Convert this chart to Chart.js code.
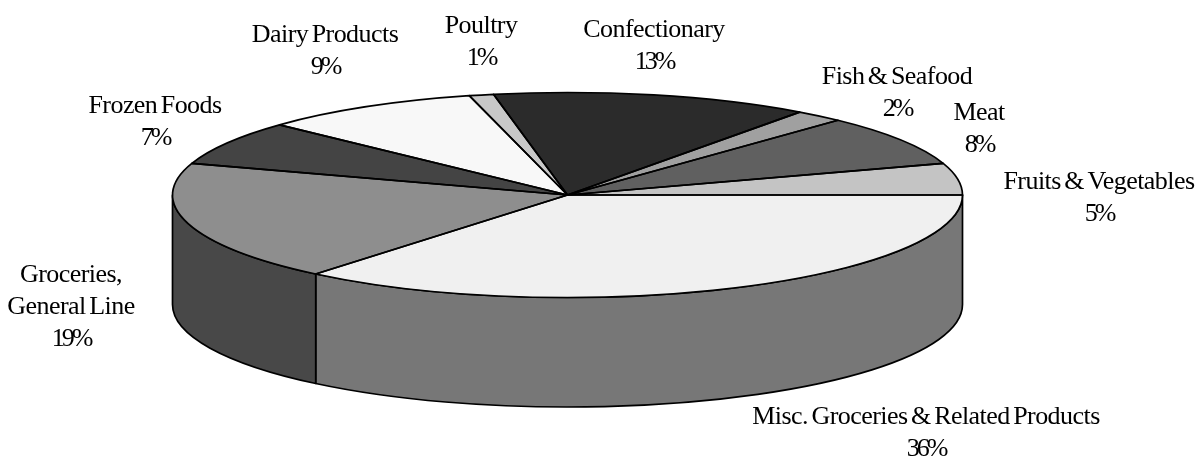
<!DOCTYPE html>
<html>
<head>
<meta charset="utf-8">
<title>Wholesale groceries pie</title>
<script src="https://cdn.jsdelivr.net/npm/chart.js@4"></script>
<style>
  html, body { margin: 0; padding: 0; background: #fff; }
  #pie { display: block; }
</style>
</head>
<body>
<canvas id="pie" width="1197" height="458"></canvas>
<script>
// slices run clockwise from 3 o'clock
const categories = [
  'Misc. Groceries & Related Products',
  'Groceries,\nGeneral Line',
  'Frozen Foods',
  'Dairy Products',
  'Poultry',
  'Confectionary',
  'Fish & Seafood',
  'Meat',
  'Fruits & Vegetables'
];
const shares = [36, 19, 7, 9, 1, 13, 2, 8, 5];
const topColors = ['#f0f0f0', '#8e8e8e', '#444444', '#f8f8f8', '#c8c8c8', '#2b2b2b', '#a0a0a0', '#606060', '#c4c4c4'];
const wallColors = ['#777777', '#484848', '#222222', '#7c7c7c', '#646464', '#161616', '#505050', '#303030', '#626262'];

// label anchor for each slice: centre x, y of the first line
const labelSpots = [
  [926, 417], [71, 275], [155, 106], [325, 35], [481, 26], [654, 30], [897, 77], [979, 113], [1099, 182]
];
const lineGap = 32.3;

// tilted disc, the library's circle gets squashed onto this
const disc = { cx: 567.5, cy: 195, rx: 395, ry: 102.5, depth: 109.5 };

const wallSpan = Math.PI; // only the front half of the rim shows

const tiltedPie = {
  id: 'tiltedPie',
  beforeDatasetDraw(chart) {
    const ctx = chart.ctx;
    const arcs = chart.getDatasetMeta(0).data;

    ctx.save();
    ctx.lineJoin = 'round';
    ctx.strokeStyle = '#000';
    ctx.lineWidth = 1.7;

    // side wall
    arcs.forEach((arc, i) => {
      const from = norm(arc.startAngle);
      const to = Math.min(from + (arc.endAngle - arc.startAngle), wallSpan);
      if (to <= from) return;
      ctx.beginPath();
      ctx.ellipse(disc.cx, disc.cy, disc.rx, disc.ry, 0, from, to);
      ctx.ellipse(disc.cx, disc.cy + disc.depth, disc.rx, disc.ry, 0, to, from, true);
      ctx.closePath();
      ctx.fillStyle = wallColors[i];
      ctx.fill();
      ctx.stroke();
    });

    // top face: the library's own arcs under a squash transform
    arcs.forEach(arc => {
      const r = arc.outerRadius;
      ctx.save();
      ctx.translate(disc.cx, disc.cy);
      ctx.scale(disc.rx / r, disc.ry / r);
      ctx.translate(-arc.x, -arc.y);
      arc.draw(ctx);
      ctx.restore();
    });

    // outlines drawn unsquashed so the pen stays even
    arcs.forEach(arc => {
      const from = norm(arc.startAngle);
      const to = from + (arc.endAngle - arc.startAngle);
      ctx.beginPath();
      ctx.moveTo(disc.cx, disc.cy);
      ctx.ellipse(disc.cx, disc.cy, disc.rx, disc.ry, 0, from, to);
      ctx.closePath();
      ctx.stroke();
    });
    ctx.restore();
    return false;
  },
  afterDraw(chart) {
    const ctx = chart.ctx;
    ctx.save();
    ctx.fillStyle = '#000';
    ctx.font = '26px "Liberation Serif"';
    ctx.textAlign = 'center';
    ctx.textBaseline = 'middle';
    categories.forEach((name, i) => {
      const names = name.split('\n');
      ctx.letterSpacing = '-0.55px';
      ctx.wordSpacing = '-2.5px';
      names.forEach((line, k) => {
        ctx.fillText(line, labelSpots[i][0], labelSpots[i][1] + k * lineGap);
      });
      // the figures sit tight against the percent sign
      ctx.letterSpacing = '-3px';
      ctx.fillText(shares[i] + '%', labelSpots[i][0], labelSpots[i][1] + names.length * lineGap);
    });
    ctx.restore();
  }
};

function norm(angle) {
  const full = Math.PI * 2;
  return ((angle % full) + full) % full;
}

new Chart(document.getElementById('pie'), {
  type: 'pie',
  data: {
    labels: categories,
    datasets: [{
      data: shares,
      backgroundColor: topColors,
      borderWidth: 0
    }]
  },
  options: {
    responsive: false,
    animation: false,
    rotation: 90,
    devicePixelRatio: 1,
    events: [],
    plugins: {
      legend: { display: false },
      tooltip: { enabled: false }
    }
  },
  plugins: [tiltedPie]
});
</script>
</body>
</html>
